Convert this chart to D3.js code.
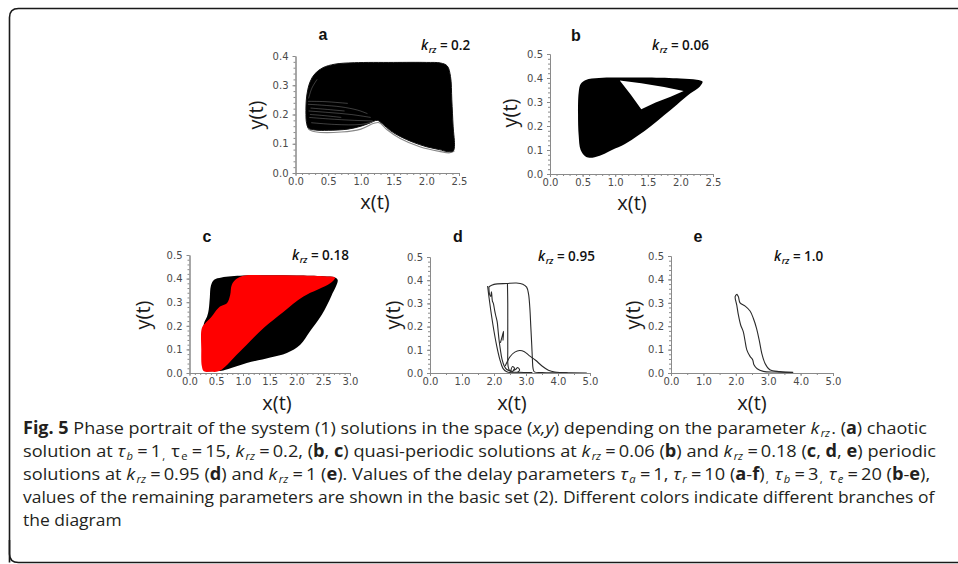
<!DOCTYPE html>
<html><head><meta charset="utf-8">
<script src="https://cdn.jsdelivr.net/npm/d3@7"></script>
<style>html,body{margin:0;padding:0;background:#fff;}svg{display:block;}</style>
</head><body>
<svg id="chart" width="958" height="564"></svg>
<script>
// ---------------- DATA ----------------
const aXTicks = [0.0, 0.5, 1.0, 1.5, 2.0, 2.5];
const aYTicks = [0.0, 0.1, 0.2, 0.3, 0.4];
const bXTicks = [0.0, 0.5, 1.0, 1.5, 2.0, 2.5];
const bYTicks = [0.0, 0.1, 0.2, 0.3, 0.4, 0.5];
const cXTicks = [0.0, 0.5, 1.0, 1.5, 2.0, 2.5, 3.0];
const cYTicks = [0.0, 0.1, 0.2, 0.3, 0.4, 0.5];
const deXTicks = [0.0, 1.0, 2.0, 3.0, 4.0, 5.0];
const deYTicks = [0.0, 0.1, 0.2, 0.3, 0.4, 0.5];

// panel a (k_rz = 0.2): chaotic attractor, envelope of the trajectories
const aOutline = [[0.16,0.20],[0.17,0.26],[0.22,0.31],[0.30,0.34],[0.42,0.36],[0.60,0.372],[0.9,0.377],[1.5,0.378],[2.0,0.378],[2.22,0.376],[2.32,0.366],[2.37,0.33],[2.39,0.25],[2.41,0.16],[2.43,0.09],[2.41,0.075],[2.33,0.073],[2.2,0.08],[2.0,0.09],[1.8,0.105],[1.6,0.125],[1.45,0.145],[1.33,0.168],[1.25,0.18],[1.15,0.172],[1.0,0.16],[0.8,0.15],[0.5,0.146],[0.3,0.147],[0.2,0.153],[0.17,0.17]];
const aOuterTraj = [[0.18,0.17],[0.2,0.15],[0.3,0.141],[0.7,0.14],[1.0,0.15],[1.2,0.17],[1.28,0.172],[1.4,0.148],[1.6,0.118],[1.9,0.09],[2.2,0.074],[2.36,0.069],[2.43,0.075]];
const aStreaks = [
  [[0.19,0.235],[0.4,0.232],[0.7,0.226],[0.95,0.215],[1.1,0.203]],
  [[0.2,0.212],[0.5,0.207],[0.85,0.2],[1.15,0.19]],
  [[0.21,0.19],[0.5,0.185],[0.9,0.18],[1.18,0.178]],
  [[0.24,0.172],[0.6,0.166],[1.0,0.166],[1.2,0.176]],
  [[0.2,0.255],[0.25,0.29],[0.33,0.32]],
  [[0.19,0.245],[0.45,0.244],[0.8,0.238]],
  [[0.22,0.2],[0.4,0.197],[0.7,0.19]],
  [[0.23,0.222],[0.45,0.218],[0.75,0.212]]
];

// panel b (k_rz = 0.06): quasi-periodic torus, filled band with a hole
const bOutline = [[0.44,0.34],[0.47,0.375],[0.55,0.392],[0.75,0.4],[1.0,0.402],[1.5,0.402],[2.0,0.398],[2.25,0.393],[2.34,0.385],[2.3,0.365],[2.15,0.335],[1.95,0.29],[1.75,0.245],[1.55,0.2],[1.35,0.16],[1.15,0.125],[0.95,0.1],[0.8,0.08],[0.65,0.068],[0.55,0.072],[0.47,0.1],[0.44,0.16],[0.43,0.25]];
const bHole = [[1.07,0.39],[1.4,0.378],[1.75,0.362],[2.05,0.346],[1.85,0.322],[1.62,0.298],[1.40,0.27],[1.24,0.33]];

// panel c (k_rz = 0.18): two branches (black, red)
const cBlack = [[0.25,0.16],[0.27,0.21],[0.33,0.24],[0.36,0.27],[0.38,0.32],[0.40,0.37],[0.46,0.395],[0.6,0.405],[1.0,0.413],[1.5,0.414],[2.0,0.413],[2.5,0.41],[2.72,0.405],[2.77,0.394],[2.66,0.331],[2.47,0.246],[2.25,0.176],[2.07,0.12],[1.82,0.085],[1.51,0.066],[1.07,0.042],[0.63,0.011],[0.45,0.008],[0.3,0.01],[0.25,0.05]];
const cRed = [[0.23,0.03],[0.22,0.1],[0.23,0.19],[0.29,0.21],[0.40,0.235],[0.48,0.26],[0.57,0.282],[0.70,0.296],[0.76,0.331],[0.79,0.373],[0.88,0.399],[1.04,0.413],[1.5,0.414],[2.0,0.413],[2.5,0.41],[2.72,0.404],[2.63,0.38],[2.13,0.324],[1.76,0.26],[1.38,0.19],[1.07,0.12],[0.82,0.063],[0.67,0.028],[0.54,0.007],[0.4,0.005],[0.27,0.007]];

// panel d (k_rz = 0.95): periodic solution, trajectory pieces
const dCurves = [
  [[1.84,0.372],[2.0,0.382],[2.4,0.386],[2.7,0.388],[2.9,0.383],[3.02,0.37],[3.08,0.34],[3.12,0.28],[3.15,0.2],[3.18,0.12],[3.2,0.06],[3.22,0.02],[3.26,0.005],[3.5,0.002],[4.0,0.001],[4.9,0.0]],
  [[2.42,0.385],[2.43,0.3],[2.43,0.2],[2.43,0.1],[2.44,0.03],[2.5,0.008],[2.8,0.003],[3.2,0.002]],
  [[1.84,0.372],[1.86,0.34],[1.9,0.33],[1.92,0.35],[1.95,0.31],[1.98,0.3],[2.02,0.27],[2.05,0.25],[2.1,0.22],[2.13,0.18],[2.16,0.14],[2.2,0.1],[2.25,0.06],[2.32,0.03],[2.4,0.015],[2.6,0.006]],
  [[1.8,0.375],[1.85,0.32],[1.92,0.25],[2.0,0.18],[2.08,0.12],[2.18,0.06],[2.28,0.02],[2.4,0.005],[3.0,0.001]],
  [[2.2,0.13],[2.26,0.16],[2.3,0.18],[2.28,0.14]],
  [[2.35,0.03],[2.5,0.07],[2.65,0.09],[2.8,0.097],[2.95,0.092],[3.1,0.075],[3.3,0.055],[3.5,0.03],[3.7,0.012],[3.9,0.004],[4.3,0.001]],
  [[2.52,0.008],[2.58,0.028],[2.64,0.02],[2.6,0.01],[2.68,0.016],[2.74,0.024],[2.8,0.012],[2.74,0.004]]
];

// panel e (k_rz = 1.0): periodic orbit
const eCurves = [
  [[2.03,0.337],[2.08,0.326],[2.13,0.30],[2.29,0.286],[2.44,0.265],[2.54,0.234],[2.64,0.191],[2.73,0.135],[2.80,0.085],[2.9,0.042],[3.05,0.014],[3.36,0.006],[3.77,0.003]],
  [[2.03,0.337],[1.98,0.326],[2.03,0.29],[2.08,0.248],[2.15,0.205],[2.23,0.177],[2.28,0.142],[2.34,0.099],[2.44,0.071],[2.52,0.057],[2.56,0.035],[2.66,0.018],[2.85,0.007],[3.2,0.004],[3.77,0.002]]
];

// caption
const captionLines = [
  [{t:"Fig. 5",b:1},{t:" Phase portrait of the system (1) solutions in the space ("},{t:"x,y",i:1},{t:") depending on the parameter "},{t:"k",i:1},{t:"rz",i:1,s:1},{t:". ("},{t:"a",b:1},{t:") chaotic"}],
  [{t:"solution at "},{t:"τ",i:1},{t:"b",i:1,s:1},{t:"\u2009=\u20091"},{t:",",s:1},{t:" τ"},{t:"e",s:1},{t:"\u2009=\u200915, "},{t:"k",i:1},{t:"rz",i:1,s:1},{t:"\u2009=\u20090.2, ("},{t:"b",b:1},{t:", "},{t:"c",b:1},{t:") quasi-periodic solutions at "},{t:"k",i:1},{t:"rz",i:1,s:1},{t:"\u2009=\u20090.06 ("},{t:"b",b:1},{t:") and "},{t:"k",i:1},{t:"rz",i:1,s:1},{t:"\u2009=\u20090.18 ("},{t:"c",b:1},{t:", "},{t:"d",b:1},{t:", "},{t:"e",b:1},{t:") periodic"}],
  [{t:"solutions at "},{t:"k",i:1},{t:"rz",i:1,s:1},{t:"\u2009=\u20090.95 ("},{t:"d",b:1},{t:") and "},{t:"k",i:1},{t:"rz",i:1,s:1},{t:"\u2009=\u20091 ("},{t:"e",b:1},{t:"). Values of the delay parameters "},{t:"τ",i:1},{t:"a",i:1,s:1},{t:"\u2009=\u20091, "},{t:"τ",i:1},{t:"r",i:1,s:1},{t:"\u2009=\u200910 ("},{t:"a",b:1},{t:"-"},{t:"f",b:1},{t:")"},{t:",",s:1},{t:" "},{t:"τ",i:1},{t:"b",i:1,s:1},{t:"\u2009=\u20093"},{t:",",s:1},{t:" "},{t:"τ",i:1},{t:"e",i:1,s:1},{t:"\u2009=\u200920 ("},{t:"b",b:1},{t:"-"},{t:"e",b:1},{t:"),"}],
  [{t:"values of the remaining parameters are shown in the basic set (2). Different colors indicate different branches of"}],
  [{t:"the diagram"}]
];

// ---------------- LAYOUT ----------------
const svg = d3.select("#chart");
svg.append("path")
  .attr("d", "M9.5,562.5 L9.5,17.5 Q9.5,8.5 18.5,8.5 L970,8.5")
  .attr("fill","none").attr("stroke","#1a1a1a").attr("stroke-width",1.6);
svg.append("path")
  .attr("d", "M9.5,540 L9.5,554 Q9.5,562.5 18.5,562.5 L970,562.5")
  .attr("fill","none").attr("stroke","#1a1a1a").attr("stroke-width",1.6);

const panels = [
  {id:"a", x0:295.5, x1:459, yT:56, y0:173, xMax:2.5, yMax:0.4, xt:aXTicks, yt:aYTicks, xMinor:0.1, yMinor:0.02,
   title:[323,40], krz:"0.2", krzPos:[421,50], ylab:[256,115], xlab:[375,209]},
  {id:"b", x0:550, x1:713, yT:54, y0:174, xMax:2.5, yMax:0.5, xt:bXTicks, yt:bYTicks, xMinor:0.1, yMinor:0.02,
   title:[576,41], krz:"0.06", krzPos:[652,50], ylab:[510,113], xlab:[632,210]},
  {id:"c", x0:189.5, x1:350, yT:255, y0:373, xMax:3.0, yMax:0.5, xt:cXTicks, yt:cYTicks, xMinor:0.1, yMinor:0.02,
   title:[207,242], krz:"0.18", krzPos:[292,260], ylab:[143,315], xlab:[277,410]},
  {id:"d", x0:430, x1:590, yT:257, y0:373, xMax:5.0, yMax:0.5, xt:deXTicks, yt:deYTicks, xMinor:0.5, yMinor:0.02,
   title:[458,242], krz:"0.95", krzPos:[538,261], ylab:[393,315], xlab:[512,410]},
  {id:"e", x0:671, x1:833, yT:256, y0:373, xMax:5.0, yMax:0.5, xt:deXTicks, yt:deYTicks, xMinor:0.5, yMinor:0.02,
   title:[698,242], krz:"1.0", krzPos:[774,261], ylab:[633,315], xlab:[752,410]}
];

const sc = {};
panels.forEach(p => {
  const x = d3.scaleLinear().domain([0,p.xMax]).range([p.x0,p.x1]);
  const y = d3.scaleLinear().domain([0,p.yMax]).range([p.y0,p.yT]);
  sc[p.id] = {x,y};
});

function lineGen(id, curve) {
  return d3.line().x(d=>sc[id].x(d[0])).y(d=>sc[id].y(d[1])).curve(curve);
}

const marks = svg.append("g");
// panel a
marks.append("path").attr("d", lineGen("a", d3.curveCatmullRom)(aOuterTraj))
  .attr("fill","none").attr("stroke","#888").attr("stroke-width",1.1);
marks.append("path").attr("d", lineGen("a", d3.curveCatmullRomClosed)(aOutline))
  .attr("fill","#000").attr("stroke","#111").attr("stroke-width",1);
aStreaks.forEach(s => marks.append("path").attr("d", lineGen("a", d3.curveCatmullRom)(s))
  .attr("fill","none").attr("stroke","#fff").attr("stroke-opacity",0.35).attr("stroke-width",0.7));
// panel b
marks.append("path").attr("d", lineGen("b", d3.curveCatmullRomClosed)(bOutline))
  .attr("fill","#000");
marks.append("path").attr("d", lineGen("b", d3.curveLinearClosed)(bHole))
  .attr("fill","#fff");
// panel c
marks.append("path").attr("d", lineGen("c", d3.curveCatmullRomClosed)(cBlack)).attr("fill","#000");
marks.append("path").attr("d", lineGen("c", d3.curveCatmullRomClosed)(cRed)).attr("fill","#ff0000");
// panel d, e
dCurves.forEach(cv => marks.append("path").attr("d", lineGen("d", d3.curveCatmullRom)(cv))
  .attr("fill","none").attr("stroke","#2a2a2a").attr("stroke-width",1.1));
eCurves.forEach(cv => marks.append("path").attr("d", lineGen("e", d3.curveCatmullRom)(cv))
  .attr("fill","none").attr("stroke","#2a2a2a").attr("stroke-width",1.1));

// axes
panels.forEach(p => {
  const {x,y} = sc[p.id];
  const g = svg.append("g");
  const fmt = d3.format(".1f");
  const minorX = d3.range(0, p.xMax + 1e-9, p.xMinor);
  const minorY = d3.range(0, p.yMax + 1e-9, p.yMinor);
  g.append("g").attr("transform",`translate(0,${p.y0})`)
    .call(d3.axisBottom(x).tickValues(minorX).tickFormat("").tickSize(2).tickSizeOuter(0));
  g.append("g").attr("transform",`translate(${p.x0},0)`)
    .call(d3.axisLeft(y).tickValues(minorY).tickFormat("").tickSize(2).tickSizeOuter(0));
  g.append("g").attr("transform",`translate(0,${p.y0})`)
    .call(d3.axisBottom(x).tickValues(p.xt).tickFormat(fmt).tickSize(3).tickPadding(2).tickSizeOuter(0));
  g.append("g").attr("transform",`translate(${p.x0},0)`)
    .call(d3.axisLeft(y).tickValues(p.yt).tickFormat(fmt).tickSize(3).tickPadding(4).tickSizeOuter(0));
  g.selectAll(".domain").attr("stroke","#8a8a8a").attr("stroke-width",1);
  g.selectAll(".tick line").attr("stroke","#8a8a8a");
  g.selectAll(".tick text").attr("fill","#4a4a4a").attr("font-family","'DejaVu Sans', Verdana, sans-serif").attr("font-size","10px");

  // title letter
  svg.append("text").attr("x",p.title[0]).attr("y",p.title[1]).attr("text-anchor","middle")
    .attr("font-family","'Liberation Sans', Arial, sans-serif").attr("font-weight","bold").attr("font-size","16px")
    .attr("fill","#111").text(p.id);
  // k_rz label
  const kt = svg.append("text").attr("x",p.krzPos[0]).attr("y",p.krzPos[1])
    .attr("font-family","'Open Sans', 'Liberation Sans', sans-serif").attr("font-size","13.5px").attr("font-weight","600").attr("fill","#111");
  kt.append("tspan").attr("font-style","italic").text("k");
  kt.append("tspan").attr("font-style","italic").attr("font-size","9px").attr("dy",3).attr("dx",0.5).text("rz");
  kt.append("tspan").attr("dy",-3).text(" = " + p.krz);
  // axis labels
  svg.append("text").attr("transform",`translate(${p.ylab[0]},${p.ylab[1]}) rotate(-90)`)
    .attr("text-anchor","middle").attr("dy","0.35em")
    .attr("font-family","'Open Sans', sans-serif").attr("font-size","20px").attr("fill","#1a1a1a").text("y(t)");
  svg.append("text").attr("x",p.xlab[0]).attr("y",p.xlab[1]).attr("text-anchor","middle")
    .attr("font-family","'Open Sans', sans-serif").attr("font-size","20px").attr("fill","#1a1a1a").text("x(t)");
});

// caption: natural layout, then fitted horizontally to the reference line widths
const capBase = [434, 457, 480, 503, 526];
const capLen = [902, 898, 887, 912, null];
let lastK = 1;
captionLines.forEach((segs, li) => {
  const t = svg.append("text").attr("x",0).attr("y",0)
    .attr("font-family","'Open Sans', sans-serif").attr("font-size","17px").attr("fill","#231f20");
  let off = 0, prevSub = false;
  segs.forEach(sg => {
    const want = sg.s ? 3 : 0;
    const ts = t.append("tspan").text(sg.t);
    if (want !== off) { ts.attr("dy", want - off); off = want; }
    if (sg.s || prevSub) ts.attr("dx", 1.2);
    if (sg.b) ts.attr("font-weight","bold");
    if (sg.i) ts.attr("font-style","italic");
    if (sg.s) ts.attr("font-size","10.5px");
    prevSub = !!sg.s;
  });
  const w = t.node().getComputedTextLength();
  const k = capLen[li] ? capLen[li] / w : lastK;
  lastK = k;
  t.attr("transform", `translate(23,${capBase[li]}) scale(${k},1)`);
});
</script>
</body></html>
